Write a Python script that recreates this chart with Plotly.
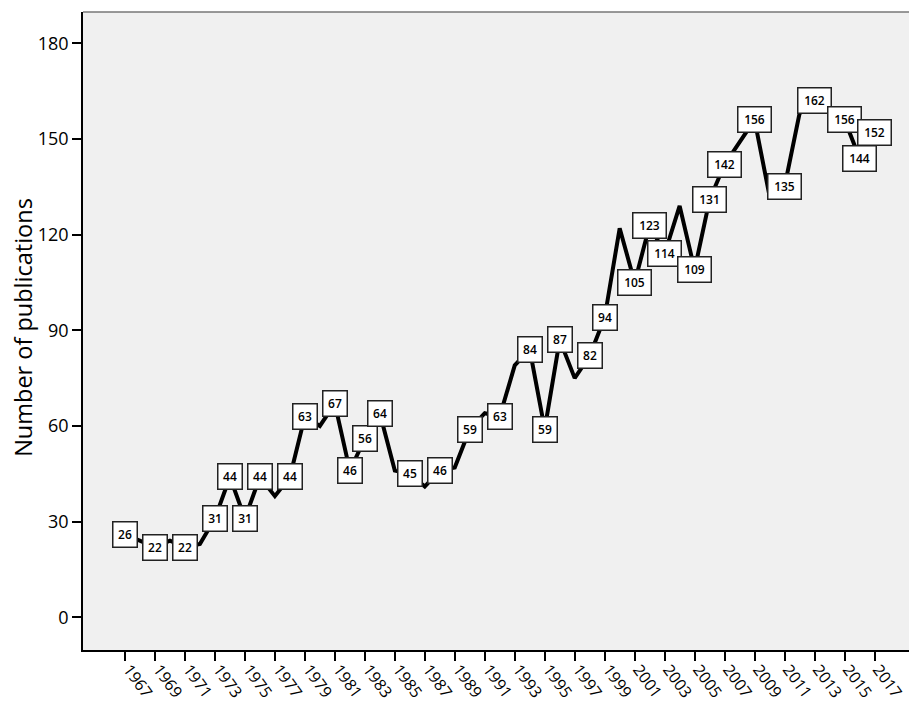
import plotly.graph_objects as go

years = list(range(1967, 2018))
publications = [26, 24, 22, 24, 22, 23, 31, 44, 31, 44,
                38, 44, 63, 60, 67, 46, 56, 64, 46, 45,
                41, 46, 47, 59, 64, 63, 79, 84, 59, 87,
                75, 82, 94, 122, 105, 123, 114, 129, 109, 131,
                142, 149, 156, 132, 135, 158, 162, 160, 156, 144,
                152]
# 1 = the value has a data label box in the original chart
labelled = [1, 0, 1, 0, 1, 0, 1, 1, 1, 1,
            0, 1, 1, 0, 1, 1, 1, 1, 0, 1,
            0, 1, 0, 1, 0, 1, 0, 1, 1, 1,
            0, 1, 1, 0, 1, 1, 1, 0, 1, 1,
            1, 0, 1, 0, 1, 0, 1, 0, 1, 1,
            1]
tick_years = list(range(1967, 2018, 2))
y_ticks = [0, 30, 60, 90, 120, 150, 180]

fig = go.Figure()
fig.add_trace(go.Scatter(
    x=years, y=publications, mode="lines",
    line=dict(color="black", width=4),
    hoverinfo="skip", showlegend=False,
))

for yr, v, lab in zip(years, publications, labelled):
    if lab:
        txt = str(v)
        fig.add_annotation(
            x=yr, y=v, xref="x", yref="y", text=txt, showarrow=False,
            font=dict(family="Open Sans", size=12, color="black", weight=600),
            bgcolor="white", bordercolor="#222222", borderwidth=1.5,
            borderpad=1, width=21 if len(txt) < 3 else 30, height=22,
            xanchor="center", yanchor="middle",
        )

fig.add_annotation(
    xref="paper", yref="paper", x=-0.0726, y=0.505,
    text="Number of publications", textangle=-90, showarrow=False,
    font=dict(family="Open Sans", size=23.5, color="black"),
    xanchor="center", yanchor="middle",
)

fig.update_layout(
    width=909, height=703,
    margin=dict(l=83, r=0, t=12, b=53, autoexpand=False),
    paper_bgcolor="white", plot_bgcolor="#f0f0f0",
    xaxis=dict(
        range=[1964.2, 2019.3], tickmode="array", tickvals=tick_years,
        ticktext=[str(t) for t in tick_years], tickangle=54,
        ticks="outside", ticklen=9, tickwidth=1.5, tickcolor="black",
        ticklabelstandoff=-7, ticklabelshift=4,
        showline=True, linecolor="black", linewidth=1.5, mirror=False,
        showgrid=False, zeroline=False, automargin=False,
        tickfont=dict(family="Open Sans", size=16, color="black"),
    ),
    yaxis=dict(
        range=[-10.25, 189.8], tickmode="array", tickvals=y_ticks,
        ticks="outside", ticklen=9, tickwidth=1.5, tickcolor="black",
        showline=True, linecolor="black", linewidth=1.5,
        showgrid=False, zeroline=False, automargin=False,
        tickfont=dict(family="Open Sans", size=18, color="black"),
    ),
    shapes=[dict(type="line", xref="paper", yref="paper", x0=0, x1=1,
                 y0=1, y1=1, line=dict(color="#777777", width=1.5))],
)

fig.write_html("out.html", config={"displayModeBar": False},
               post_script="document.body.style.margin='0';document.body.style.overflow='hidden';")
